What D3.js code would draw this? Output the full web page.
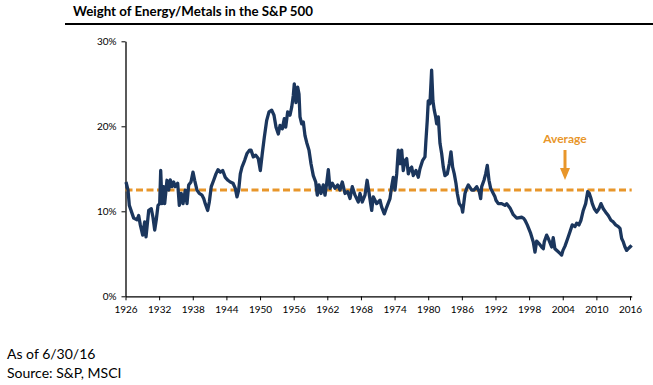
<!DOCTYPE html>
<html><head><meta charset="utf-8">
<script src="https://cdn.jsdelivr.net/npm/d3@7"></script>
<style>body{margin:0;background:#fff}svg{display:block}</style>
</head><body><svg id="c" width="653" height="385"></svg>
<script>
const title = "Weight of Energy/Metals in the S&P 500";
const yTicks = [0, 10, 20, 30];
const xTicks = [1926,1932,1938,1944,1950,1956,1962,1968,1974,1980,1986,1992,1998,2004,2010,2016];
const average = 12.5;
const years = [1926.09,1926.45,1926.68,1927.46,1928.05,1928.35,1928.64,1929.07,1929.42,1929.66,1930.14,1930.6,1930.9,1931.21,1931.49,1931.8,1932.1,1932.28,1932.51,1932.81,1932.99,1933.4,1933.71,1933.99,1934.29,1934.6,1934.88,1935.31,1935.6,1935.95,1936.26,1936.67,1936.97,1937.27,1937.68,1938.04,1938.34,1938.75,1939.16,1939.65,1939.95,1940.23,1940.66,1940.95,1941.3,1941.73,1942.14,1942.5,1942.91,1943.34,1943.8,1944.28,1944.69,1945.18,1945.59,1945.89,1946.19,1946.48,1946.78,1947.26,1947.67,1948.15,1948.39,1948.8,1949.23,1949.69,1950.05,1950.4,1950.76,1951.19,1951.6,1952.08,1952.49,1952.85,1953.26,1953.56,1953.97,1954.33,1954.58,1954.93,1955.34,1955.65,1955.93,1956.11,1956.41,1956.72,1956.95,1957.13,1957.43,1957.72,1958.02,1958.32,1958.73,1959.09,1959.5,1959.93,1960.21,1960.52,1960.87,1961.28,1961.59,1961.89,1962.18,1962.48,1962.89,1963.37,1963.85,1964.26,1964.67,1965.16,1965.64,1966.05,1966.46,1966.94,1967.53,1967.83,1968.24,1968.72,1969.1,1969.92,1970.2,1970.81,1971.4,1971.7,1972.17,1972.6,1973.18,1973.48,1973.77,1974.07,1974.38,1974.66,1974.97,1975.27,1975.55,1975.86,1976.16,1976.45,1976.75,1977.05,1977.34,1977.82,1978.23,1978.53,1979.01,1979.42,1979.59,1979.83,1980.01,1980.31,1980.61,1980.84,1981.08,1981.33,1981.51,1981.8,1982.1,1982.4,1982.69,1982.99,1983.4,1983.76,1984.06,1984.36,1984.65,1984.95,1985.19,1985.54,1985.97,1986.15,1986.56,1986.86,1987.15,1987.76,1988.17,1988.65,1989.11,1989.36,1989.54,1989.95,1990.25,1990.54,1990.84,1991.14,1991.61,1991.91,1992.09,1992.5,1993.11,1993.7,1994.0,1994.59,1995.18,1995.79,1996.68,1996.97,1997.27,1997.67,1998.28,1998.74,1999.05,1999.35,1999.76,2000.24,2000.53,2000.7,2001.13,2001.42,2001.72,2002.02,2002.3,2002.6,2003.1,2003.5,2003.8,2004.04,2004.4,2004.88,2005.29,2005.7,2006.18,2006.48,2006.89,2007.25,2007.66,2008.09,2008.45,2008.74,2009.04,2009.27,2009.63,2010.05,2010.46,2010.82,2011.23,2011.66,2012.12,2012.6,2013.01,2013.44,2013.91,2014.21,2014.51,2014.8,2015.1,2015.4,2015.69,2015.99,2016.29];
const weights = [13.45,12.5,10.7,9.2,9.0,9.5,8.4,7.2,8.75,7.0,10.1,10.3,9.3,7.8,9.0,10.7,10.9,14.8,10.9,12.9,10.9,13.65,12.5,13.7,12.9,13.45,12.9,13.3,10.7,12.1,10.9,12.5,10.9,13.1,13.45,14.6,13.65,12.5,12.1,11.9,11.5,10.9,10.1,11.1,12.9,13.65,14.4,14.9,14.6,14.8,14.0,13.65,13.45,13.3,12.7,11.7,12.5,14.4,15.2,16.0,16.8,17.2,17.2,16.4,16.6,16.2,14.8,16.8,18.7,20.7,21.7,21.9,21.3,19.9,19.1,20.1,19.7,20.9,19.9,21.7,21.3,22.25,23.6,25.0,22.8,24.6,23.8,21.1,20.3,20.5,18.9,18.1,17.2,15.6,14.2,13.45,11.9,13.1,12.1,13.1,11.9,13.3,14.9,12.7,13.3,12.7,13.1,12.5,13.45,12.1,12.3,11.5,12.9,11.9,11.1,12.1,11.1,11.9,13.65,10.1,11.7,10.9,11.3,10.5,9.7,10.5,11.5,12.9,14.0,12.5,14.4,17.2,15.6,17.2,14.8,16.0,16.2,14.4,15.0,15.2,14.2,14.8,14.0,15.0,16.0,16.4,18.3,20.7,23.0,22.65,26.6,23.0,21.9,21.1,20.3,21.1,18.0,16.8,15.2,14.2,14.4,15.6,17.0,15.2,14.4,13.3,12.1,10.9,10.5,9.9,12.1,12.7,13.1,12.5,12.5,12.9,12.3,11.5,12.9,13.65,14.4,15.4,13.65,12.7,12.1,11.7,11.3,10.9,10.9,10.7,10.9,10.4,9.6,9.2,9.3,9.2,8.95,8.4,7.4,6.4,5.2,6.5,6.2,5.8,5.6,6.4,7.2,6.8,6.3,5.8,6.9,5.6,5.3,5.05,4.85,5.4,5.9,6.8,7.6,8.4,8.2,8.6,8.4,8.95,10.1,10.9,12.3,12.1,11.5,10.9,10.3,9.9,10.3,10.9,10.3,9.9,9.5,8.95,8.75,8.4,8.2,8.0,6.8,6.4,5.8,5.4,5.6,5.8,6.0];
const footnotes = ["As of 6/30/16", "Source: S&P, MSCI"];

const svg = d3.select("#c");
const navy = "#1b365d", orange = "#e8962a";
const font = "Lato, 'Open Sans', sans-serif";

const x = d3.scaleLinear().domain([1926, 2016.3]).range([125.5, 631.7]);
const y = d3.scaleLinear().domain([0, 30]).range([296.3, 41.3]);

// title
svg.append("text").attr("x", 73).attr("y", 16).attr("font-family", font)
  .attr("font-weight", "bold").attr("font-size", 13).attr("fill", "#000")
  .attr("textLength", 240).attr("lengthAdjust", "spacingAndGlyphs").text(title);
svg.append("line").attr("x1", 65).attr("x2", 653).attr("y1", 24).attr("y2", 24)
  .attr("stroke", "#000").attr("stroke-width", 2);

// axes
const gy = svg.append("g").attr("transform", `translate(${x.range()[0]},0)`)
  .call(d3.axisLeft(y).tickValues(yTicks).tickSize(4).tickSizeOuter(0).tickPadding(5).tickFormat(d => d + "%"));
const gx = svg.append("g").attr("transform", `translate(0,${y(0)})`)
  .call(d3.axisBottom(x).tickValues(xTicks).tickSize(4).tickSizeOuter(0).tickPadding(6).tickFormat(d3.format("d")));
[gx, gy].forEach(g => {
  g.select(".domain").attr("stroke", "#000").attr("stroke-width", 1.3);
  g.selectAll(".tick line").attr("stroke", "#000").attr("stroke-width", 1);
  g.selectAll("text").attr("font-family", font).attr("font-size", 10).attr("fill", "#000");
});

// average line
svg.append("line").attr("x1", x.range()[0]).attr("x2", x.range()[1])
  .attr("y1", y(average)).attr("y2", y(average))
  .attr("stroke", orange).attr("stroke-width", 3).attr("stroke-dasharray", "7,3.5");

// data line
const data = years.map((yr, i) => [yr, weights[i]]);
svg.append("path").datum(data)
  .attr("d", d3.line().x(d => x(d[0])).y(d => y(d[1])))
  .attr("fill", "none").attr("stroke", navy).attr("stroke-width", 3.3).attr("stroke-linejoin", "round");

// Average annotation
const ax = 565;
svg.append("text").attr("x", ax).attr("y", 143).attr("text-anchor", "middle")
  .attr("font-family", font).attr("font-weight", "bold").attr("font-size", 12)
  .attr("fill", orange).text("Average");
svg.append("line").attr("x1", ax).attr("x2", ax).attr("y1", 150).attr("y2", 170)
  .attr("stroke", orange).attr("stroke-width", 3);
svg.append("path").attr("d", `M${ax-5},168 L${ax+5},168 L${ax},180 Z`).attr("fill", orange);

// footnotes
footnotes.forEach((t, i) => svg.append("text").attr("x", 7).attr("y", 359 + i * 19)
  .attr("font-family", font).attr("font-size", 14).attr("fill", "#000").text(t));
</script></body></html>
